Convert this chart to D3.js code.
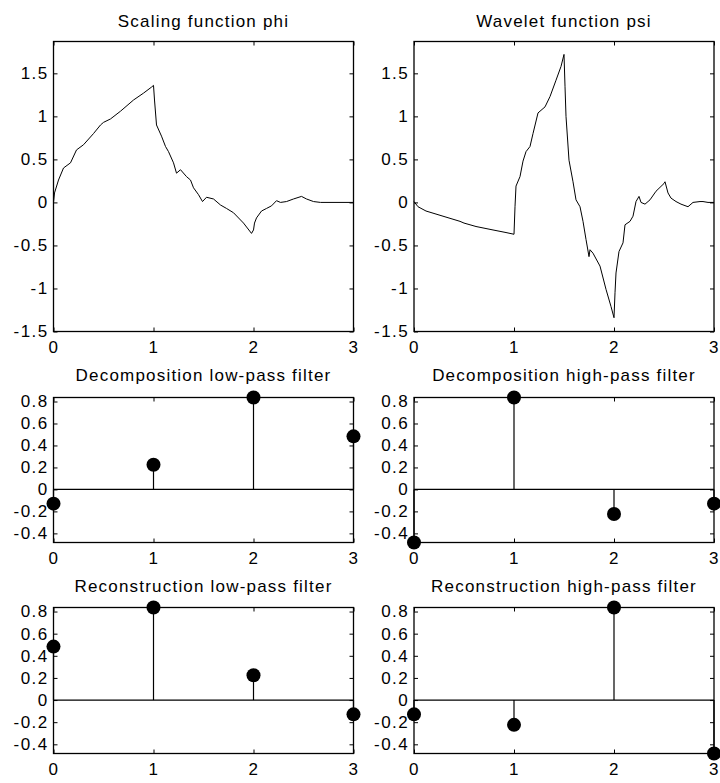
<!DOCTYPE html>
<html>
<head>
<meta charset="utf-8">
<script src="https://cdn.jsdelivr.net/npm/d3@7"></script>
<style>
  body { margin: 0; background: #fff; }
  svg text { font-family: "Liberation Sans", Arial, sans-serif; font-size: 17px; fill: #000; letter-spacing: 0.8px; }
  .tick text { font-size: 17px; letter-spacing: 1.4px; }
  .tick line { stroke: #000; }
</style>
</head>
<body>
<script>
// phi / psi as [x, value] pairs
var phiPoints = [
  [0, 0], [0.01, 0.11], [0.05, 0.26], [0.1, 0.40], [0.17, 0.46], [0.23, 0.61], [0.3, 0.67],
  [0.4, 0.80], [0.47, 0.90], [0.5, 0.93], [0.57, 0.97], [0.67, 1.06], [0.8, 1.19], [0.9, 1.27],
  [0.98, 1.34], [1.0, 1.36], [1.01, 1.19], [1.03, 0.90], [1.08, 0.77], [1.12, 0.65], [1.15, 0.59],
  [1.2, 0.46], [1.23, 0.34], [1.27, 0.38], [1.33, 0.30], [1.37, 0.26], [1.4, 0.17], [1.45, 0.09],
  [1.49, 0.01], [1.53, 0.06], [1.6, 0.04], [1.67, -0.03], [1.73, -0.07], [1.8, -0.12], [1.9, -0.24],
  [1.98, -0.36], [2.0, -0.32], [2.01, -0.24], [2.03, -0.18], [2.08, -0.10], [2.13, -0.07],
  [2.18, -0.04], [2.23, 0.02], [2.27, 0], [2.33, 0.01], [2.4, 0.04], [2.48, 0.07], [2.53, 0.04],
  [2.6, 0.01], [2.67, 0], [3, 0]
];
var psiPoints = [
  [0, 0.01], [0.04, -0.05], [0.12, -0.10], [0.29, -0.16], [0.46, -0.22], [0.5, -0.24], [0.62, -0.28],
  [0.79, -0.32], [0.92, -0.35], [1.0, -0.37], [1.01, -0.05], [1.02, 0.19], [1.06, 0.30], [1.09, 0.48],
  [1.12, 0.59], [1.16, 0.65], [1.19, 0.80], [1.24, 1.04], [1.27, 1.07], [1.31, 1.11], [1.36, 1.23],
  [1.42, 1.42], [1.47, 1.58], [1.5, 1.72], [1.51, 1.35], [1.52, 1.0], [1.55, 0.49], [1.59, 0.24],
  [1.62, 0.03], [1.66, -0.05], [1.69, -0.22], [1.72, -0.43], [1.75, -0.63], [1.76, -0.55],
  [1.79, -0.59], [1.86, -0.74], [1.92, -1.01], [1.97, -1.21], [2.0, -1.34], [2.01, -1.05],
  [2.02, -0.82], [2.05, -0.57], [2.09, -0.47], [2.11, -0.26], [2.16, -0.22], [2.19, -0.16],
  [2.22, 0.01], [2.25, 0.07], [2.27, 0], [2.31, -0.02], [2.36, 0.03], [2.42, 0.13], [2.5, 0.22],
  [2.51, 0.24], [2.54, 0.11], [2.57, 0.05], [2.62, 0.01], [2.67, -0.02], [2.74, -0.05], [2.79, 0],
  [2.86, 0.01], [2.89, 0.01], [2.94, 0], [3, 0]
];

// filter coefficients (stem plots)
var decLo = [-0.1294, 0.2241, 0.8365, 0.4830];
var decHi = [-0.4830, 0.8365, -0.2241, -0.1294];
var recLo = [0.4830, 0.8365, 0.2241, -0.1294];
var recHi = [-0.1294, -0.2241, 0.8365, -0.4830];

var xTicks = [0, 1, 2, 3];
var funcYTicks = [-1.5, -1, -0.5, 0, 0.5, 1, 1.5];
var filtYTicks = [-0.4, -0.2, 0, 0.2, 0.4, 0.6, 0.8];

var svg = d3.select("body").append("svg")
    .attr("width", 720)
    .attr("height", 783);

function panel(box, yDomain, yTicks, title) {
    var x = d3.scaleLinear().domain([0, 3]).range([box.left, box.right]);
    var y = d3.scaleLinear().domain(yDomain).range([box.bottom, box.top]);
    var g = svg.append("g");
    var fmt = function(d) { return String(d); };

    g.append("g")
        .attr("transform", "translate(0," + box.bottom + ")")
        .call(d3.axisBottom(x).tickValues(xTicks).tickSize(-4).tickPadding(9).tickFormat(fmt))
        .call(function(a) { a.select(".domain").remove(); });
    g.append("g")
        .attr("transform", "translate(0," + box.top + ")")
        .call(d3.axisTop(x).tickValues(xTicks).tickSize(-4).tickFormat(""))
        .call(function(a) { a.select(".domain").remove(); });
    g.append("g")
        .attr("transform", "translate(" + box.left + ",0)")
        .call(d3.axisLeft(y).tickValues(yTicks).tickSize(-4).tickPadding(5).tickFormat(fmt))
        .call(function(a) { a.select(".domain").remove(); });
    g.append("g")
        .attr("transform", "translate(" + box.right + ",0)")
        .call(d3.axisRight(y).tickValues(yTicks).tickSize(-4).tickFormat(""))
        .call(function(a) { a.select(".domain").remove(); });

    g.append("rect")
        .attr("x", box.left)
        .attr("y", box.top)
        .attr("width", box.right - box.left)
        .attr("height", box.bottom - box.top)
        .attr("fill", "none")
        .attr("stroke", "#000")
        .attr("stroke-width", 1.3);

    svg.append("text")
        .attr("x", (box.left + box.right) / 2)
        .attr("y", box.top - box.titleGap)
        .attr("text-anchor", "middle")
        .style("letter-spacing", "1.2px")
        .text(title);

    return { g: g, x: x, y: y };
}

function linePlot(p, pts) {
    p.g.append("path")
        .datum(pts)
        .attr("fill", "none")
        .attr("stroke", "#000")
        .attr("stroke-width", 1)
        .attr("d", d3.line().x(function(d) { return p.x(d[0]); }).y(function(d) { return p.y(d[1]); }));
}

function stemPlot(p, vals) {
    p.g.append("line")
        .attr("x1", p.x(0)).attr("x2", p.x(3))
        .attr("y1", p.y(0)).attr("y2", p.y(0))
        .attr("stroke", "#000").attr("stroke-width", 1.3);
    p.g.selectAll(".stem")
        .data(vals)
        .enter().append("line")
        .attr("class", "stem")
        .attr("x1", function(d, i) { return p.x(i); })
        .attr("x2", function(d, i) { return p.x(i); })
        .attr("y1", p.y(0))
        .attr("y2", function(d) { return p.y(d); })
        .attr("stroke", "#000").attr("stroke-width", 1.2);
    p.g.selectAll(".dot")
        .data(vals)
        .enter().append("circle")
        .attr("class", "dot")
        .attr("cx", function(d, i) { return p.x(i); })
        .attr("cy", function(d) { return p.y(d); })
        .attr("r", 7)
        .attr("fill", "#000");
}

var funcDomain = [-1.5, 1.87];
var filtDomain = [-0.483, 0.8365];

var leftCol = { left: 53.5, right: 353.5 };
var rightCol = { left: 414, right: 714 };
var rows = [
    { top: 41.5, bottom: 331.5, titleGap: 15 },
    { top: 397.5, bottom: 542.5, titleGap: 17 },
    { top: 607.5, bottom: 753.5, titleGap: 16 }
];

function box(col, row) {
    return { left: col.left, right: col.right, top: row.top, bottom: row.bottom, titleGap: row.titleGap };
}

linePlot(panel(box(leftCol, rows[0]), funcDomain, funcYTicks, "Scaling function phi"), phiPoints);
linePlot(panel(box(rightCol, rows[0]), funcDomain, funcYTicks, "Wavelet function psi"), psiPoints);
stemPlot(panel(box(leftCol, rows[1]), filtDomain, filtYTicks, "Decomposition low-pass filter"), decLo);
stemPlot(panel(box(rightCol, rows[1]), filtDomain, filtYTicks, "Decomposition high-pass filter"), decHi);
stemPlot(panel(box(leftCol, rows[2]), filtDomain, filtYTicks, "Reconstruction low-pass filter"), recLo);
stemPlot(panel(box(rightCol, rows[2]), filtDomain, filtYTicks, "Reconstruction high-pass filter"), recHi);
</script>
</body>
</html>
